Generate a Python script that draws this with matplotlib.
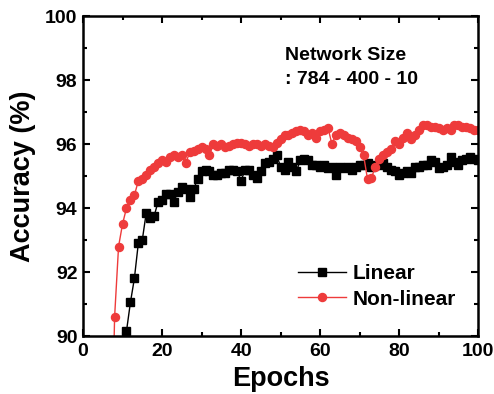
import matplotlib
matplotlib.use('Agg')
import matplotlib.pyplot as plt
from matplotlib.ticker import MultipleLocator

plt.rcParams['font.family'] = ['Liberation Sans', 'DejaVu Sans']
plt.rcParams['font.weight'] = 'bold'

# epochs for each series (first point lies below the axis)
epochs_lin = list(range(10, 101))
acc_lin = [87.0, 90.15, 91.05, 91.8, 92.9, 93.0, 93.85, 93.7, 93.75, 94.2,
           94.25, 94.45, 94.45, 94.2, 94.5, 94.65, 94.6, 94.35, 94.6, 94.9,
           95.15, 95.2, 95.15, 95.05, 95.05, 95.1, 95.1, 95.2, 95.2, 95.15,
           94.85, 95.2, 95.2, 95.05, 94.95, 95.15, 95.4, 95.45, 95.55, 95.65,
           95.3, 95.2, 95.45, 95.3, 95.15, 95.5, 95.55, 95.5, 95.35, 95.35,
           95.3, 95.35, 95.25, 95.3, 95.05, 95.3, 95.25, 95.3, 95.2, 95.3,
           95.35, 95.35, 95.4, 95.3, 95.35, 95.35, 95.4, 95.3, 95.2, 95.15,
           95.05, 95.1, 95.15, 95.1, 95.3, 95.3, 95.35, 95.35, 95.5, 95.45,
           95.25, 95.3, 95.35, 95.6, 95.45, 95.35, 95.5, 95.55, 95.6, 95.55,
           95.5]

epochs_nl = list(range(7, 101))
acc_nl = [85.0, 90.6, 92.8, 93.5, 94.0, 94.25, 94.4, 94.85, 94.9, 95.05,
          95.2, 95.3, 95.4, 95.5, 95.45, 95.6, 95.65, 95.6, 95.65, 95.4,
          95.75, 95.8, 95.85, 95.9, 95.85, 95.65, 96.0, 95.95, 96.0, 95.9,
          95.95, 96.0, 96.05, 96.05, 96.0, 95.95, 96.0, 96.0, 95.95, 96.0,
          95.95, 95.9, 96.05, 96.15, 96.3, 96.3, 96.35, 96.4, 96.45, 96.4,
          96.3, 96.35, 96.2, 96.4, 96.45, 96.5, 96.0, 96.3, 96.35, 96.3,
          96.2, 96.15, 96.1, 95.9, 95.65, 94.9, 94.95, 95.3, 95.55, 95.65,
          95.75, 95.85, 96.1, 96.0, 96.2, 96.35, 96.15, 96.3, 96.45, 96.6,
          96.6, 96.55, 96.55, 96.5, 96.45, 96.5, 96.45, 96.6, 96.6, 96.55,
          96.55, 96.5, 96.45, 96.45]

red = '#ee3b3b'

fig = plt.figure(figsize=(4.94, 3.94), dpi=100)
ax = fig.add_axes([0.168, 0.147, 0.8, 0.812])

ax.plot(epochs_lin, acc_lin, '-s', color='black', lw=1, ms=5.8, label='Linear')
ax.plot(epochs_nl, acc_nl, '-o', color=red, lw=1, ms=5.8, label='Non-linear')

ax.set_xlim(0, 100)
ax.set_ylim(90, 100)
ax.xaxis.set_major_locator(MultipleLocator(20))
ax.xaxis.set_minor_locator(MultipleLocator(10))
ax.yaxis.set_major_locator(MultipleLocator(2))
ax.yaxis.set_minor_locator(MultipleLocator(1))
ax.tick_params(which='both', direction='in', top=True, right=True, width=1.5)
ax.tick_params(which='major', length=5, labelsize=14)
ax.tick_params(axis='x', which='major', pad=5)
ax.tick_params(axis='y', which='major', pad=4)
ax.tick_params(which='minor', length=3)
for s in ax.spines.values():
    s.set_linewidth(1.8)

ax.set_xlabel('Epochs', fontsize=19.5, fontweight='bold')
ax.set_ylabel('Accuracy (%)', fontsize=19.5, fontweight='bold')
ax.xaxis.set_label_coords(0.5, -0.095)
ax.yaxis.set_label_coords(-0.12, 0.5)

ax.text(0.51, 0.905, 'Network Size\n: 784 - 400 - 10', transform=ax.transAxes,
        fontsize=14, fontweight='bold', va='top', ha='left', linespacing=1.6)

ax.legend(loc='lower right', frameon=False, fontsize=15, handlelength=2.3,
          borderaxespad=0, labelspacing=0.3, handletextpad=0.3,
          bbox_to_anchor=(0.965, 0.06))

fig.savefig('out.png', dpi=100)
